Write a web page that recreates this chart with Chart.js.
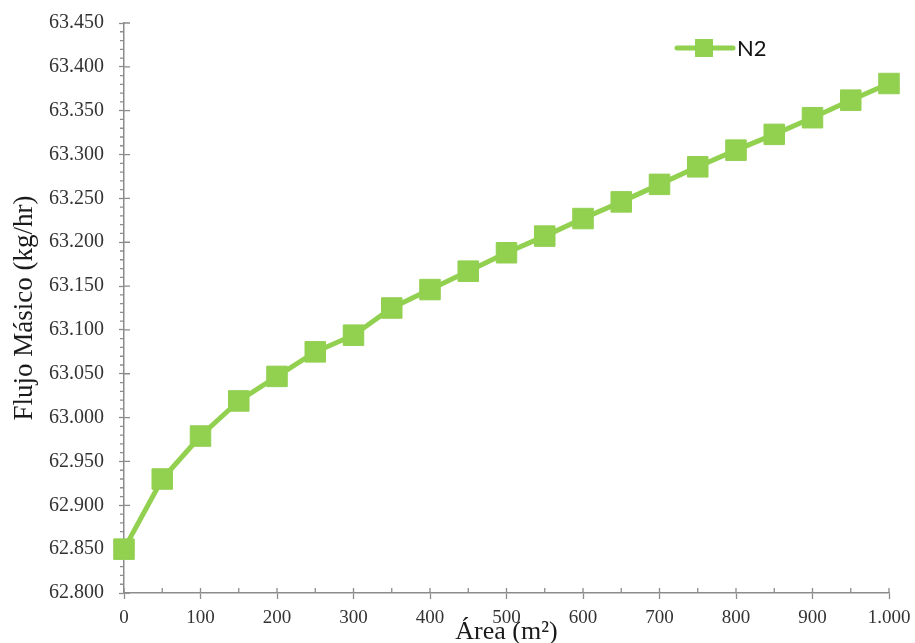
<!DOCTYPE html>
<html>
<head>
<meta charset="utf-8">
<script src="https://cdn.jsdelivr.net/npm/chart.js@4.4.1/dist/chart.umd.min.js"></script>
<style>
  html, body { margin: 0; padding: 0; background: #fff; }
</style>
</head>
<body>
<canvas id="flujoChart" width="915" height="643"></canvas>
<script>
// valores
const areas = [0, 50, 100, 150, 200, 250, 300, 350, 400, 450, 500, 550, 600, 650, 700, 750, 800, 850, 900, 950, 1000];
const flujoN2 = [62.850, 62.930, 62.979, 63.019, 63.047, 63.075, 63.094, 63.125, 63.146, 63.167, 63.188,
                 63.207, 63.227, 63.246, 63.266, 63.286, 63.305, 63.323, 63.342, 63.362, 63.381];
const xTicks = [0, 100, 200, 300, 400, 500, 600, 700, 800, 900, 1000];
const xMinorTicks = [50, 150, 250, 350, 450, 550, 650, 750, 850, 950];
const yTicks = [62.80, 62.85, 62.90, 62.95, 63.00, 63.05, 63.10, 63.15, 63.20, 63.25, 63.30, 63.35, 63.40, 63.45];

const axisColor = "#8c8c8c";
const green = "#92D050";

// ticks menores + parte interior de los ticks mayores (como en Excel)
const axisTicks = {
  id: "axisTicks",
  beforeDatasetsDraw(chart) {
    const { ctx, scales: { x, y } } = chart;
    const x0 = x.getPixelForValue(0);
    const y0 = y.getPixelForValue(yTicks[0]);
    ctx.save();
    ctx.strokeStyle = axisColor;
    ctx.lineWidth = 1.3;
    ctx.beginPath();
    yTicks.forEach((v, i) => {
      const py = y.getPixelForValue(v);
      ctx.moveTo(x0, py);
      ctx.lineTo(x0 + 6, py);
      if (i < yTicks.length - 1) {
        const step = (yTicks[i + 1] - v) / 5;
        for (let k = 1; k < 5; k++) {
          const my = y.getPixelForValue(v + step * k);
          ctx.moveTo(x0 - 4, my);
          ctx.lineTo(x0, my);
        }
      }
    });
    xTicks.forEach((v) => {
      const px = x.getPixelForValue(v);
      ctx.moveTo(px, y0);
      ctx.lineTo(px, y0 - 5);
    });
    xMinorTicks.forEach((v) => {
      const px = x.getPixelForValue(v);
      ctx.moveTo(px, y0);
      ctx.lineTo(px, y0 - 5);
    });
    ctx.stroke();
    ctx.restore();
  },
};

// leyenda dentro del area del grafico, arriba a la derecha
const innerLegend = {
  id: "innerLegend",
  afterDraw(chart) {
    const { ctx } = chart;
    const ds = chart.data.datasets[0];
    const lx = 677, ly = 48;
    ctx.save();
    ctx.strokeStyle = ds.borderColor;
    ctx.lineWidth = 5;
    ctx.lineCap = "round";
    ctx.beginPath();
    ctx.moveTo(lx, ly);
    ctx.lineTo(lx + 56, ly);
    ctx.stroke();
    ctx.fillStyle = ds.pointBackgroundColor;
    ctx.fillRect(lx + 18, ly - 9, 18, 18);
    ctx.fillStyle = "#111";
    ctx.font = "22px Lato";
    ctx.textAlign = "left";
    ctx.textBaseline = "middle";
    ctx.fillText(ds.label, lx + 60, ly + 1);
    ctx.restore();
  },
};

new Chart(document.getElementById("flujoChart").getContext("2d"), {
  type: "line",
  data: {
    datasets: [
      {
        label: "N2",
        data: areas.map((a, i) => ({ x: a, y: flujoN2[i] })),
        borderColor: green,
        backgroundColor: green,
        pointBackgroundColor: green,
        pointBorderColor: green,
        borderWidth: 5,
        pointStyle: "rect",
        pointRadius: 14.5,
        pointBorderWidth: 1,
        tension: 0,
        clip: false,
      },
    ],
  },
  options: {
    responsive: false,
    animation: false,
    layout: { autoPadding: false, padding: { top: 23, right: 26, bottom: 0, left: 0 } },
    plugins: {
      legend: { display: false },
      tooltip: { enabled: false },
    },
    scales: {
      x: {
        type: "linear",
        min: 0,
        max: 1000,
        afterBuildTicks: (scale) => { scale.ticks = xTicks.map((v) => ({ value: v })); },
        afterFit: (scale) => {
          scale.height = 50;
          scale.paddingLeft = 0;
          scale.paddingRight = 0;
        },
        grid: { drawOnChartArea: false, drawTicks: true, tickLength: 6, tickColor: axisColor, tickWidth: 1.3 },
        border: { color: axisColor, width: 1.5 },
        ticks: {
          padding: 8,
          color: "#333",
          autoSkip: false,
          maxRotation: 0,
          font: { family: "Liberation Serif", size: 19 },
          callback: (v) => (v >= 1000 ? (v / 1000).toFixed(3) : String(v)),
        },
        title: {
          display: true,
          text: "Área (m²)",
          color: "#1a1a1a",
          font: { family: "Liberation Serif", size: 26, lineHeight: 0.8 },
          padding: 0,
        },
      },
      y: {
        type: "linear",
        min: 62.8,
        max: 63.45,
        afterBuildTicks: (scale) => { scale.ticks = yTicks.map((v) => ({ value: v })); },
        afterFit: (scale) => {
          scale.width = 124;
          scale.paddingTop = 0;
          scale.paddingBottom = 0;
        },
        grid: { drawOnChartArea: false, drawTicks: true, tickLength: 5, tickColor: axisColor, tickWidth: 1.3 },
        border: { color: axisColor, width: 1.5 },
        ticks: {
          padding: 15,
          color: "#333",
          autoSkip: false,
          font: { family: "Liberation Serif", size: 20 },
          callback: (v) => v.toFixed(3),
        },
        title: {
          display: true,
          text: "Flujo Másico (kg/hr)",
          color: "#1a1a1a",
          font: { family: "Liberation Serif", size: 27 },
          padding: { top: 9, bottom: 0 },
        },
      },
    },
  },
  plugins: [axisTicks, innerLegend],
});
</script>
</body>
</html>
